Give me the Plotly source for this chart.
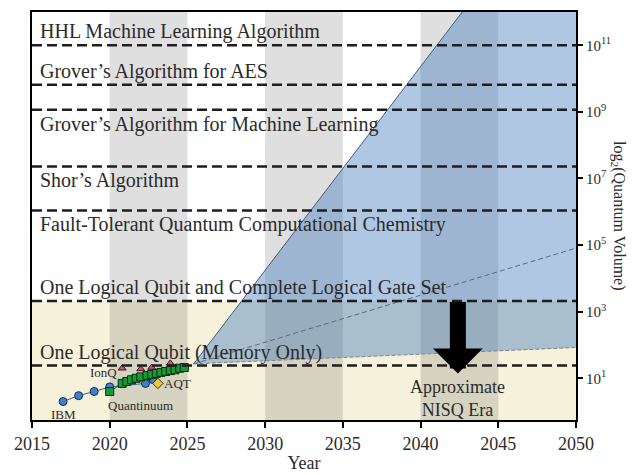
import numpy as np
import plotly.graph_objects as go

# ---------------- data ----------------
ibm_years = [2017, 2018, 2019, 2020, 2022.3, 2022.8]
ibm_vals = [2, 3, 4, 5.5, 7, 9]

quant_years = [2020.0, 2020.8, 2021.1, 2021.4, 2021.7, 2022.0, 2022.4, 2022.7,
               2023.0, 2023.3, 2023.6, 2023.9, 2024.2, 2024.5, 2024.8]
quant_vals = [4, 7, 8, 9, 10, 11, 12, 13, 14, 15, 16, 17, 18, 20, 21]

ionq_years = [2020.8, 2022.0, 2022.7, 2023.9]
ionq_vals = [20, 19, 21, 28]

aqt_years = [2023.1]
aqt_vals = [7]

cone_years = [2025.4, 2050]
cone_upper = [27, 3e16]
cone_mid = [27, 8.1e4]
cone_lower = [27, 84]

milestones = [
    "HHL Machine Learning Algorithm",
    "Grover\u2019s Algorithm for AES",
    "Grover\u2019s Algorithm for Machine Learning",
    "Shor\u2019s Algorithm",
    "Fault-Tolerant Quantum Computational Chemistry",
    "One Logical Qubit and Complete Logical Gate Set",
    "One Logical Qubit (Memory Only)",
]
milestone_vals = [1e11, 6.5e9, 1.15e9, 2.3e7, 1.1e6, 2.1e3, 24]
milestone_side = ["above", "above", "below", "below", "below", "above", "above"]
threshold_vals = [1e11, 6.5e9, 1.15e9, 2.3e7, 1.1e6, 2.1e3, 24]

nisq_top = 2.1e3
band_starts = [2020, 2030, 2040]
band_width = 5
x_ticks = [2015, 2020, 2025, 2030, 2035, 2040, 2045, 2050]
y_tick_exps = [1, 3, 5, 7, 9, 11]

arrow_year = 2042.4
arrow_tip_val = 14

FONT = "Liberation Serif"
TXT = "#2b2b2b"

fig = go.Figure()

# cone (lower edge then upper with fill)
fig.add_trace(go.Scatter(x=cone_years, y=cone_lower, mode="lines",
                         line=dict(color="#7a8690", width=1, dash="4px,2px"),
                         showlegend=False, hoverinfo="skip"))
fig.add_trace(go.Scatter(x=cone_years, y=cone_upper, mode="lines", fill="tonexty",
                         fillcolor="rgba(72,128,188,0.44)",
                         line=dict(color="#3d5f80", width=1),
                         showlegend=False, hoverinfo="skip"))
fig.add_trace(go.Scatter(x=cone_years, y=cone_mid, mode="lines",
                         line=dict(color="#5d6b78", width=1, dash="5px,3px"),
                         showlegend=False, hoverinfo="skip"))

# data series
fig.add_trace(go.Scatter(x=ibm_years, y=ibm_vals, mode="lines+markers",
                         line=dict(color="#2f64a8", width=1),
                         marker=dict(symbol="circle", size=8, color="#3f7fd0",
                                     line=dict(color="#1a2a40", width=1)),
                         showlegend=False))
fig.add_trace(go.Scatter(x=quant_years, y=quant_vals, mode="lines+markers",
                         line=dict(color="#0d5a1e", width=1),
                         marker=dict(symbol="square", size=8, color="#159a35",
                                     line=dict(color="#0a2a10", width=1)),
                         showlegend=False))
fig.add_trace(go.Scatter(x=ionq_years, y=ionq_vals, mode="markers",
                         marker=dict(symbol="triangle-up", size=7, color="#d84a7a",
                                     line=dict(color="#401020", width=1)),
                         showlegend=False))
fig.add_trace(go.Scatter(x=aqt_years, y=aqt_vals, mode="markers",
                         marker=dict(symbol="diamond", size=8, color="#ecc840",
                                     line=dict(color="#403010", width=1)),
                         showlegend=False))

shapes = []
# NISQ beige band
shapes.append(dict(type="rect", xref="paper", yref="y", x0=0, x1=1,
                   y0=10 ** -0.3, y1=nisq_top, fillcolor="#f6f1da",
                   line=dict(width=0), layer="below"))
# grey vertical bands
for b in band_starts:
    shapes.append(dict(type="rect", xref="x", yref="paper", x0=b, x1=b + band_width,
                       y0=0, y1=1, fillcolor="rgba(95,95,95,0.2)",
                       line=dict(width=0), layer="below"))
# dashed threshold lines
for v in threshold_vals:
    shapes.append(dict(type="line", xref="paper", yref="y", x0=0, x1=1, y0=v, y1=v,
                       line=dict(color="#1e1e1e", width=2.5, dash="10px,5px"),
                       layer="above"))

annotations = []
for label, v, side in zip(milestones, milestone_vals, milestone_side):
    annotations.append(dict(
        x=2015.4, y=np.log10(v), xref="x", yref="y", text=label,
        showarrow=False, xanchor="left",
        yanchor="bottom" if side == "above" else "top",
        yshift=0 if side == "above" else -1,
        font=dict(family=FONT, size=20, color=TXT)))

small = dict(family=FONT, size=13, color=TXT)
annotations += [
    dict(x=ibm_years[0], y=np.log10(ibm_vals[0]), text="IBM", showarrow=False,
         xanchor="center", yanchor="top", yshift=-3, font=small),
    dict(x=2022.0, y=np.log10(quant_vals[0]), text="Quantinuum", showarrow=False,
         xanchor="center", yanchor="top", yshift=-4, font=small),
    dict(x=ionq_years[0], y=np.log10(ionq_vals[0]), text="IonQ", showarrow=False,
         xanchor="right", yanchor="middle", xshift=-3, yshift=-4, font=small),
    dict(x=aqt_years[0], y=np.log10(aqt_vals[0]), text="AQT", showarrow=False,
         xanchor="left", yanchor="middle", xshift=4, font=small),
    # arrow
    dict(x=arrow_year, y=np.log10(arrow_tip_val), xref="x", yref="y", text="",
         showarrow=True, arrowhead=1, arrowsize=0.52, arrowwidth=16,
         arrowcolor="black", ax=0, ay=-73),
    dict(x=arrow_year, y=np.log10(arrow_tip_val), text="Approximate<br>NISQ Era",
         showarrow=False, xanchor="center", yanchor="top", yshift=-2,
         font=dict(family=FONT, size=18, color=TXT)),
    # right axis title
    dict(x=1.1, y=0.5, xref="paper", yref="paper",
         text="log<sub>2</sub>(Quantum Volume)", textangle=90, showarrow=False,
         font=dict(family=FONT, size=16, color=TXT)),
]

# page body has an 8px margin, so the figure is sized to fit the 641x475 window
fig.update_layout(
    width=633, height=467,
    margin=dict(l=24, r=65, t=2, b=55),
    paper_bgcolor="white", plot_bgcolor="white",
    shapes=shapes, annotations=annotations,
    showlegend=False,
    xaxis=dict(range=[2015, 2050], tickvals=x_ticks, ticks="outside", ticklen=6,
               tickwidth=1.5, tickcolor="black", showline=True, linewidth=2,
               linecolor="black", mirror=True, showgrid=False, zeroline=False,
               tickfont=dict(family=FONT, size=18, color=TXT),
               title=dict(text="Year", font=dict(family=FONT, size=18, color=TXT),
                          standoff=4)),
    yaxis=dict(type="log", range=[-0.254, 12], side="right",
               tickvals=[10 ** e for e in y_tick_exps],
               ticktext=["10<sup>%d</sup>" % e for e in y_tick_exps],
               ticks="outside", ticklen=5, tickwidth=1.5, tickcolor="black",
               showline=True, linewidth=2, linecolor="black", mirror=True,
               showgrid=False, zeroline=False,
               tickfont=dict(family=FONT, size=15, color=TXT)),
)

fig.write_html("out.html")
